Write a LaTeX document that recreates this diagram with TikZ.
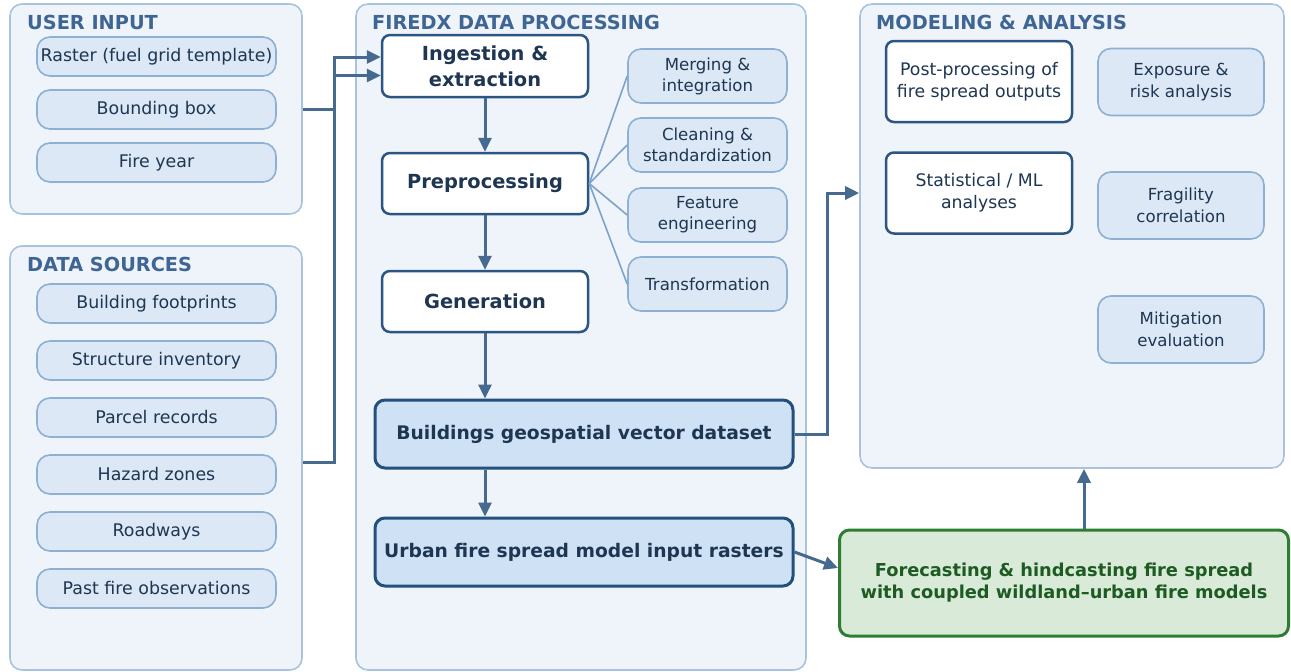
\documentclass[tikz,border=0pt]{standalone}
\usepackage{fontspec}
\setmainfont{DejaVu Sans}
\usetikzlibrary{arrows.meta}

\definecolor{panelfill}{HTML}{EEF4FA}
\definecolor{paneldraw}{HTML}{A9C3DD}
\definecolor{titleblue}{HTML}{3E6593}
\definecolor{pillfill}{HTML}{DCE8F5}
\definecolor{pilldraw}{HTML}{8EB0D3}
\definecolor{inktext}{HTML}{1E3652}
\definecolor{stepdraw}{HTML}{2C5682}
\definecolor{keyfill}{HTML}{CFE2F5}
\definecolor{keydraw}{HTML}{24507E}
\definecolor{greenfill}{HTML}{D9EBD8}
\definecolor{greendraw}{HTML}{2F7D33}
\definecolor{greentext}{HTML}{1D5B22}
\definecolor{flow}{HTML}{46698F}
\definecolor{branch}{HTML}{7DA3CA}

\tikzset{
  panel/.style={draw=paneldraw, fill=panelfill, line width=1.6pt, rounded corners=12pt, inner sep=0},
  paneltitle/.style={anchor=base west, inner sep=0, text=titleblue,
    font=\fontsize{19.3}{22}\selectfont\bfseries},
  pill/.style={draw=pilldraw, fill=pillfill, line width=1.6pt, rounded corners=13pt,
    text=inktext, align=center, inner sep=0},
  srcpill/.style={pill, minimum width=239pt, minimum height=39pt,
    font=\fontsize{17.4}{21}\selectfont},
  subpill/.style={pill, minimum width=159pt, minimum height=54pt,
    font=\fontsize{16.6}{21}\selectfont},
  taskpill/.style={pill, minimum width=166pt, minimum height=67pt,
    font=\fontsize{16.6}{22}\selectfont},
  stepbox/.style={draw=stepdraw, fill=white, line width=2.5pt, rounded corners=8pt,
    text=inktext, align=center, inner sep=0, minimum width=206pt, minimum height=61pt,
    font=\fontsize{19.4}{26}\selectfont\bfseries},
  anabox/.style={draw=stepdraw, fill=white, line width=2.5pt, rounded corners=8pt,
    text=inktext, align=center, inner sep=0, minimum width=186pt, minimum height=81pt,
    font=\fontsize{17.3}{22}\selectfont},
  keybox/.style={draw=keydraw, fill=keyfill, line width=3pt, rounded corners=10pt,
    text=inktext, align=center, inner sep=0, minimum width=418pt, minimum height=68pt,
    font=\fontsize{18.7}{24}\selectfont\bfseries},
  modelbox/.style={draw=greendraw, fill=greenfill, line width=3pt, rounded corners=10pt,
    text=greentext, align=center, inner sep=0, minimum width=449pt, minimum height=106pt,
    font=\fontsize{17.8}{22}\selectfont\bfseries},
  flowarrow/.style={draw=flow, line width=3pt, -{Triangle[length=14pt,width=13pt]}},
  branchline/.style={draw=branch, line width=1.6pt},
}

\begin{document}
\begin{tikzpicture}[x=1pt, y=-1pt]
\useasboundingbox (0,0) rectangle (1291,672);

% ---- panels ----
\node[panel, minimum width=292pt, minimum height=210pt] (userpanel)   at (156,109) {};
\node[panel, minimum width=292pt, minimum height=424pt] (sourcepanel) at (156,458) {};
\node[panel, minimum width=450pt, minimum height=666pt] (procpanel)   at (581,337) {};
\node[panel, minimum width=424pt, minimum height=464pt] (modelpanel)  at (1072,236) {};

\node[paneltitle] (usertitle)   at (27,29)  {USER INPUT};
\node[paneltitle] (sourcetitle) at (27,271) {DATA SOURCES};
\node[paneltitle] (proctitle)   at (372,29) {FIREDX DATA PROCESSING};
\node[paneltitle] (modeltitle)  at (876,29) {MODELING \& ANALYSIS};

% ---- user input ----
\node[srcpill] (raster) at (156.5,56.5)  {Raster (fuel grid template)};
\node[srcpill] (bbox)   at (156.5,109.5) {Bounding box};
\node[srcpill] (year)   at (156.5,162.5) {Fire year};

% ---- data sources ----
\node[srcpill] (footprints) at (156.5,303.5) {Building footprints};
\node[srcpill] (inventory)  at (156.5,360.5) {Structure inventory};
\node[srcpill] (parcels)    at (156.5,417.5) {Parcel records};
\node[srcpill] (hazard)     at (156.5,474.5) {Hazard zones};
\node[srcpill] (roads)      at (156.5,531.5) {Roadways};
\node[srcpill] (pastfire)   at (156.5,588.5) {Past fire observations};

% ---- processing chain ----
\node[stepbox, minimum height=62pt] (ingest) at (485,66)  {Ingestion \&\\extraction};
\node[stepbox] (prep)   at (485,183.5) {Preprocessing};
\node[stepbox] (gen)    at (485,301.5) {Generation};
\node[keybox]  (vector) at (584,434)   {Buildings geospatial vector dataset};
\node[keybox]  (raster2) at (584,552)  {Urban fire spread model input rasters};

\node[subpill] (merge)     at (707.5,76)  {Merging \&\\integration};
\node[subpill] (clean)     at (707.5,145) {Cleaning \&\\standardization};
\node[subpill] (feature)   at (707.5,215) {Feature\\engineering};
\node[subpill] (transform) at (707.5,284) {Transformation};

% ---- modeling & analysis ----
\node[anabox] (postproc) at (979,81.5) {Post-processing of\\fire spread outputs};
\node[anabox] (stats)    at (979,193)  {Statistical / ML\\analyses};
\node[taskpill] (exposure)   at (1181,82)    {Exposure \&\\risk analysis};
\node[taskpill] (fragility)  at (1181,205.5) {Fragility\\correlation};
\node[taskpill] (mitigation) at (1181,329.5) {Mitigation\\evaluation};

\node[modelbox] (coupled) at (1064,583)
  {Forecasting \& hindcasting fire spread\\with coupled wildland–urban fire models};

% ---- connectors ----
\draw[flowarrow] (userpanel.east) -- (334,109) |- ([yshift=9pt]ingest.west);
\draw[flowarrow] ([yshift=-4pt]sourcepanel.east) -- (334,462) |- ([yshift=-9.5pt]ingest.west);

\draw[flowarrow] (ingest) -- (prep);
\draw[flowarrow] (prep) -- (gen);
\draw[flowarrow] (gen.south) -- (gen.south |- vector.north);
\draw[flowarrow] (gen.south |- vector.south) -- (gen.south |- raster2.north);

\draw[branchline] (prep.east) -- (merge.west);
\draw[branchline] (prep.east) -- (clean.west);
\draw[branchline] (prep.east) -- (feature.west);
\draw[branchline] (prep.east) -- (transform.west);

\draw[flowarrow] (vector.east) -- ++(33,0) |- (modelpanel.west |- stats.west);
\draw[flowarrow] (raster2.east) -- ([yshift=15pt]coupled.west);
\draw[flowarrow] ([xshift=20pt]coupled.north) -- ([xshift=20pt]coupled.north |- modelpanel.south);
\end{tikzpicture}
\end{document}
